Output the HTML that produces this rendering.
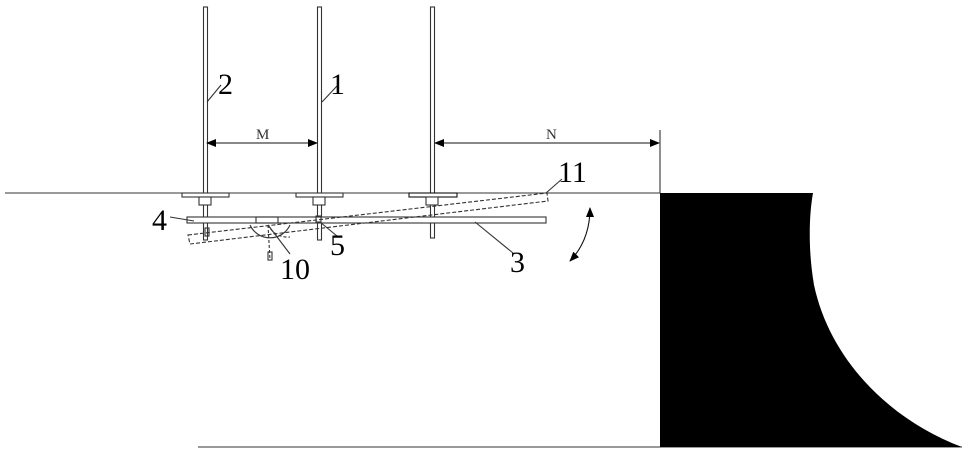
<!DOCTYPE html>
<html><head><meta charset="utf-8"><style>html,body{margin:0;padding:0;background:#fff}svg{display:block}</style></head>
<body>
<svg width="970" height="455" viewBox="0 0 970 455" xmlns="http://www.w3.org/2000/svg" font-family="Liberation Serif, serif">
<defs>
<marker id="ar" markerWidth="10" markerHeight="8" refX="9" refY="4" orient="auto-start-reverse" markerUnits="userSpaceOnUse"><path d="M0,0 L10,4 L0,8 Z" fill="#000"/></marker>
</defs>
<g stroke="#333" stroke-width="1.1" fill="none">
<line x1="5" y1="193" x2="660" y2="193"/>
<line x1="198" y1="447" x2="962" y2="447"/>
<line x1="660" y1="130" x2="660" y2="193"/>
<rect x="203.5" y="7" width="4" height="233" fill="#fff"/>
<rect x="317.5" y="7" width="4" height="233" fill="#fff"/>
<rect x="430.5" y="7" width="4" height="231" fill="#fff"/>
<rect x="182" y="193" width="47" height="4" fill="#fff"/>
<rect x="296" y="193" width="47" height="4" fill="#fff"/>
<rect x="409" y="193" width="48" height="4" fill="#fff" stroke="#111"/>
<rect x="199" y="197" width="12" height="8" fill="#fff"/>
<rect x="313" y="197" width="12" height="8" fill="#fff"/>
<rect x="426" y="197" width="12" height="8" fill="#fff"/>
<rect x="187" y="217" width="359" height="6" fill="#fff"/>
<path d="M188,235 L547,193 L548,201 L190,244 Z" stroke-dasharray="4,2"/>
<rect x="256" y="217" width="22" height="6"/>
<path d="M250,225 A22,22 0 0 0 290,225" />
<path d="M268,225 A22,22 0 0 0 290,237" stroke-dasharray="3,2"/>
<line x1="268" y1="225" x2="270" y2="260" stroke-dasharray="3,2"/>
<rect x="268" y="252" width="4" height="8"/>
<rect x="205" y="228" width="4" height="8"/>
<rect x="316" y="216" width="5" height="6"/>
<line x1="170" y1="217" x2="194" y2="221"/>
<line x1="320" y1="222" x2="337" y2="236"/>
<line x1="268" y1="225" x2="290" y2="254"/>
<line x1="475" y1="222" x2="513" y2="253"/>
<line x1="546" y1="193" x2="562" y2="179"/>
<line x1="207" y1="102" x2="221" y2="85"/>
<line x1="322" y1="102" x2="337" y2="86"/>
<line x1="207" y1="143" x2="317" y2="143" stroke="#111" marker-start="url(#ar)" marker-end="url(#ar)"/>
<line x1="435" y1="143" x2="659" y2="143" stroke="#111" marker-start="url(#ar)" marker-end="url(#ar)"/>
<path d="M590,208 Q590,240 570,261" stroke="#111" marker-start="url(#ar)" marker-end="url(#ar)"/>
</g>
<path d="M660,193 L813,193 C809,215 808,250 814,285 C830,360 890,420 962,447 L660,447 Z" fill="#000"/>
<g font-size="30" fill="#000">
<text x="218" y="94">2</text>
<text x="330" y="94">1</text>
<text x="152" y="230">4</text>
<text x="330" y="255">5</text>
<text x="280" y="279">10</text>
<text x="510" y="272">3</text>
<text x="558" y="182">11</text>
</g>
<g font-size="15" fill="#333">
<text x="256" y="139">M</text>
<text x="546" y="139">N</text>
</g>
</svg>
</body></html>
